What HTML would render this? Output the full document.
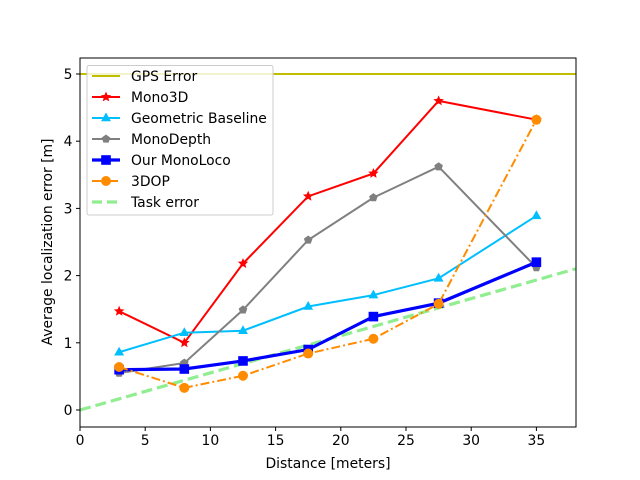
<!DOCTYPE html><html><head><style>body{margin:0;background:#fff}svg{display:block;font-family:"DejaVu Sans","Liberation Sans",sans-serif}</style></head><body>
<svg id="s" width="640" height="480" xmlns="http://www.w3.org/2000/svg"></svg>
<script>
const X=v=>80+v*13.04, Y=v=>410-v*67.2;
let h='';
const xs=[3,8,12.5,17.5,22.5,27.5,35];
h+=`<line x1="${X(0)}" y1="${Y(0)}" x2="${X(38)}" y2="${Y(2.1)}" stroke="#90ee90" stroke-width="3.2" stroke-dasharray="11,5"/>`;
h+=`<line x1="80" y1="${Y(5)}" x2="576" y2="${Y(5)}" stroke="#bfbf00" stroke-width="2"/>`;
function star(x,y,r,c){let p=[];for(let i=0;i<10;i++){let a=-Math.PI/2+i*Math.PI/5,rr=i%2?r*0.45:r;p.push((x+rr*Math.cos(a)).toFixed(1)+','+(y+rr*Math.sin(a)).toFixed(1));}return `<polygon points="${p.join(' ')}" fill="${c}"/>`}
function tri(x,y,r,c){return `<polygon points="${x},${y-r} ${x+r*0.9},${y+r*0.6} ${x-r*0.9},${y+r*0.6}" fill="${c}"/>`}
function pent(x,y,r,c){let p=[];for(let i=0;i<5;i++){let a=-Math.PI/2+i*2*Math.PI/5;p.push((x+r*Math.cos(a)).toFixed(1)+','+(y+r*Math.sin(a)).toFixed(1));}return `<polygon points="${p.join(' ')}" fill="${c}"/>`}
function sq(x,y,r,c){return `<rect x="${x-r}" y="${y-r}" width="${2*r}" height="${2*r}" fill="${c}"/>`}
function circ(x,y,r,c){return `<circle cx="${x}" cy="${y}" r="${r}" fill="${c}"/>`}
const S=[
 ['#ff0000',[1.47,1.0,2.18,3.18,3.52,4.6,4.32],star,5.5,2,''],
 ['#00bfff',[0.86,1.15,1.18,1.54,1.71,1.96,2.89],tri,5.5,2,''],
 ['#808080',[0.55,0.70,1.49,2.53,3.16,3.62,2.12],pent,4.5,2,''],
 ['#0000ff',[0.60,0.61,0.73,0.90,1.39,1.59,2.20],sq,4.8,3.2,''],
 ['#ff8c00',[0.64,0.33,0.51,0.84,1.06,1.58,4.32],circ,5,2,'9,3,2,3'],
];
for(const [c,ys,m,r,w,d] of S){h+=`<polyline fill="none" stroke="${c}" stroke-width="${w}" ${d?`stroke-dasharray="${d}"`:''} points="${xs.map((x,i)=>X(x)+','+Y(ys[i])).join(' ')}"/>`;xs.forEach((x,i)=>h+=m(X(x),Y(ys[i]),r,c));}
h+=`<rect x="80" y="58" width="496" height="369" fill="none" stroke="#000" stroke-width="1"/>`;
for(let v=0;v<=35;v+=5){h+=`<line x1="${X(v)}" y1="427" x2="${X(v)}" y2="431" stroke="#000" stroke-width="1"/><text x="${X(v)}" y="445" font-size="13.9" text-anchor="middle">${v}</text>`}
for(let v=0;v<=5;v++){h+=`<line x1="76" y1="${Y(v)}" x2="80" y2="${Y(v)}" stroke="#000" stroke-width="1"/><text x="72.5" y="${Y(v)+5}" font-size="13.9" text-anchor="end">${v}</text>`}
h+=`<text x="328" y="468" font-size="13.9" text-anchor="middle">Distance [meters]</text>`;
h+=`<text transform="translate(52,242) rotate(-90)" font-size="13.9" text-anchor="middle">Average localization error [m]</text>`;
h+=`<rect x="87" y="65.5" width="186" height="149.5" rx="2" fill="#fff" fill-opacity="0.8" stroke="#ccc"/>`;
const L=[['GPS Error','#bfbf00',null,0,2,''],['Mono3D','#ff0000',star,5.5,2,''],['Geometric Baseline','#00bfff',tri,5.5,2,''],['MonoDepth','#808080',pent,4.5,2,''],['Our MonoLoco','#0000ff',sq,4.8,3.2,''],['3DOP','#ff8c00',circ,5,2,'9,3,2,3'],['Task error','#90ee90',null,0,3.2,'10,5']];
L.forEach(([t,c,m,r,w,d],i)=>{let y=76+i*21;h+=`<line x1="92" y1="${y}" x2="120" y2="${y}" stroke="${c}" stroke-width="${w}" ${d?`stroke-dasharray="${d}"`:''}/>`;if(m)h+=m(106,y,r,c);h+=`<text x="131" y="${y+5}" font-size="13.9">${t}</text>`;});
document.getElementById('s').innerHTML=h;
</script></body></html>
